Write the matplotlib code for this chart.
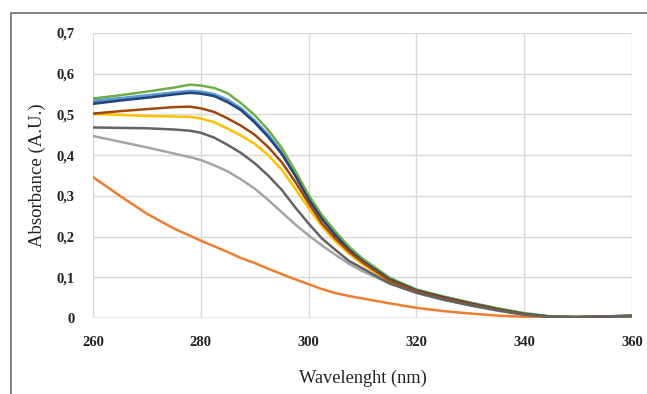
import matplotlib
matplotlib.use("Agg")
import matplotlib.pyplot as plt
from matplotlib.patches import Rectangle

wavelength = [260, 265, 270, 275, 278, 280, 282.5, 285, 287.5, 290, 292.5, 295, 297.5, 300, 302.5,
              305, 307.5, 310, 315, 320, 325, 330, 335, 340, 345, 350, 355, 360]

s_blue = [0.530, 0.537, 0.544, 0.551, 0.555, 0.553, 0.547, 0.533, 0.512, 0.482, 0.447, 0.405, 0.352, 0.293, 0.244,
          0.204, 0.169, 0.141, 0.095, 0.068, 0.051, 0.036, 0.022, 0.010, 0.003, 0.002, 0.004, 0.005]
s_orange = [0.346, 0.300, 0.256, 0.220, 0.202, 0.190, 0.176, 0.162, 0.147, 0.135, 0.121, 0.108, 0.095, 0.083, 0.071,
            0.061, 0.054, 0.048, 0.036, 0.025, 0.017, 0.011, 0.006, 0.003, 0.001, 0.003, 0.004, 0.004]
s_lgray = [0.447, 0.433, 0.419, 0.404, 0.395, 0.388, 0.375, 0.360, 0.340, 0.318, 0.290, 0.260, 0.230, 0.203, 0.178,
           0.155, 0.133, 0.115, 0.085, 0.062, 0.045, 0.031, 0.018, 0.008, 0.003, 0.002, 0.004, 0.005]
s_yellow = [0.501, 0.499, 0.496, 0.495, 0.494, 0.490, 0.481, 0.465, 0.448, 0.428, 0.400, 0.365, 0.318, 0.270, 0.225,
            0.188, 0.158, 0.132, 0.090, 0.065, 0.048, 0.034, 0.021, 0.009, 0.003, 0.002, 0.004, 0.005]
s_lblue = [0.534, 0.540, 0.547, 0.554, 0.558, 0.556, 0.550, 0.536, 0.515, 0.485, 0.450, 0.408, 0.355, 0.295, 0.246,
           0.206, 0.170, 0.142, 0.096, 0.069, 0.052, 0.037, 0.023, 0.011, 0.003, 0.002, 0.004, 0.005]
s_green = [0.539, 0.547, 0.556, 0.566, 0.573, 0.571, 0.565, 0.552, 0.527, 0.498, 0.462, 0.418, 0.362, 0.302, 0.252,
           0.212, 0.175, 0.146, 0.099, 0.070, 0.053, 0.038, 0.024, 0.012, 0.004, 0.002, 0.004, 0.005]
s_navy = [0.526, 0.534, 0.541, 0.549, 0.553, 0.551, 0.545, 0.530, 0.510, 0.480, 0.445, 0.403, 0.350, 0.292, 0.243,
          0.203, 0.168, 0.140, 0.095, 0.068, 0.051, 0.036, 0.022, 0.010, 0.003, 0.002, 0.004, 0.005]
s_brown = [0.502, 0.508, 0.513, 0.518, 0.519, 0.515, 0.506, 0.490, 0.472, 0.450, 0.420, 0.383, 0.335, 0.282, 0.232,
           0.195, 0.163, 0.137, 0.092, 0.066, 0.049, 0.034, 0.021, 0.009, 0.003, 0.002, 0.004, 0.005]
s_dgray = [0.468, 0.467, 0.466, 0.463, 0.460, 0.455, 0.443, 0.425, 0.405, 0.380, 0.350, 0.315, 0.272, 0.232, 0.195,
           0.167, 0.140, 0.122, 0.085, 0.062, 0.045, 0.031, 0.019, 0.008, 0.003, 0.002, 0.004, 0.005]

series = [s_blue, s_orange, s_lgray, s_yellow, s_lblue, s_green, s_navy, s_brown, s_dgray]
colors = ["#4472C4", "#ED7D31", "#A5A5A5", "#FFC000", "#5B9BD5", "#70AD47", "#264478", "#9E480E", "#636363"]

x_ticks = [260, 280, 300, 320, 340, 360]
y_ticks = [0, 0.1, 0.2, 0.3, 0.4, 0.5, 0.6, 0.7]
y_tick_labels = ["0", "0,1", "0,2", "0,3", "0,4", "0,5", "0,6", "0,7"]

W, H = 647, 394
fig = plt.figure(figsize=(W / 100, H / 100), dpi=100)
plt.rcParams['font.family'] = ['Liberation Serif', 'DejaVu Serif']

ax = fig.add_axes([93 / W, (H - 318) / H, (632 - 93) / W, (318 - 33) / H])
for s, c in zip(series, colors):
    ax.plot(wavelength, s, color=c, lw=1.8, solid_capstyle='round', solid_joinstyle='round')

ax.set_xlim(260, 360)
ax.set_ylim(0, 0.7)
ax.set_xticks(x_ticks)
ax.set_xticklabels([str(v) for v in x_ticks])
ax.set_yticks(y_ticks)
ax.set_yticklabels(y_tick_labels)
for sp in ax.spines.values():
    sp.set_visible(False)
ax.grid(True, color="#D9D9D9", lw=1.0)
ax.set_axisbelow(True)
ax.tick_params(length=0, labelsize=10.5, colors="#222222")
ax.tick_params(axis='y', pad=13)
ax.tick_params(axis='x', pad=13)
for lab in ax.get_xticklabels() + ax.get_yticklabels():
    lab.set_fontweight('bold')
ax.axhline(0, color="#BFBFBF", lw=1.0, zorder=0.5)

ax.set_xlabel("Wavelenght (nm)", fontsize=13.2, color="#222222", labelpad=15)
ax.set_ylabel("Absorbance (A.U.)", fontsize=13.5, color="#222222", labelpad=8)

frame = Rectangle((11 / W, -0.2), 1.5, 1 - 13 / H + 0.2, transform=fig.transFigure,
                  fill=False, edgecolor="#6E6E6E", lw=1.2, clip_on=False)
fig.patches.append(frame)

fig.savefig("out.png", dpi=100)
